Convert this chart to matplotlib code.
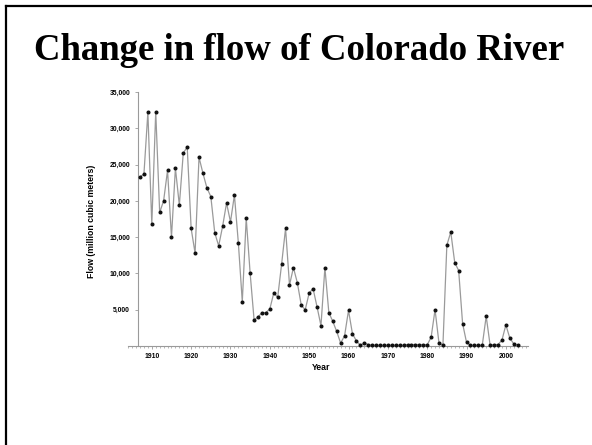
import matplotlib
matplotlib.use("Agg")
import matplotlib.pyplot as plt
from matplotlib.ticker import MultipleLocator, StrMethodFormatter
from matplotlib.lines import Line2D

# annual flow, million cubic meters
years = list(range(1907, 2004))
flow = [23300, 23700, 32200, 16800, 32300, 18400, 20000, 24200, 15000, 24500,
        19400, 26600, 27400, 16200, 12800, 26000, 23800, 21800, 20600, 15600,
        13800, 16500, 19700, 17100, 20800, 14200, 6100, 17600, 10000, 3600,
        4000, 4600, 4600, 5100, 7300, 6700, 11300, 16200, 8400, 10800,
        8700, 5600, 5000, 7300, 7900, 5400, 2800, 10800, 4600, 3400,
        2000, 400, 1400, 4900, 1700, 700, 100, 400, 200, 100,
        100, 100, 100, 100, 100, 100, 100, 100, 200, 200,
        200, 200, 200, 150, 1200, 5000, 400, 100, 13900, 15700,
        11500, 10400, 3100, 500, 100, 100, 100, 100, 4100, 100,
        200, 200, 800, 2900, 1100, 300, 100]

title = "Change in flow of Colorado River"
xlabel = "Year"
ylabel = "Flow (million cubic meters)"
year_ticks = list(range(1910, 2001, 10))
flow_ticks = list(range(5000, 35001, 5000))

W, H = 592, 445
fig = plt.figure(figsize=(W / 100, H / 100), dpi=100)

# slide frame (left and top edges only are in view)
fig.add_artist(Line2D([6 / W, 6 / W], [0, 1 - 6 / H], color="black", lw=1.6))
fig.add_artist(Line2D([6 / W, 1], [1 - 6 / H, 1 - 6 / H], color="black", lw=1.6))

fig.text(299 / W, 1 - 60 / H, title, family="Liberation Serif",
         weight="bold", fontsize=26.5, ha="center", va="baseline")

# plot area in pixels
x0, x1 = 1904, 2005.5
px_per_year = 3.934
left = 128.2
ax = fig.add_axes([left / W, (H - 346) / H, (x1 - x0) * px_per_year / W, 254 / H])

ax.plot(years, flow, color="#9a9a9a", lw=0.9, marker="o", markersize=1.9,
        markerfacecolor="#111111", markeredgecolor="#111111", zorder=3, clip_on=False)

ax.set_xlim(x0, x1)
ax.set_ylim(0, 35000)

grey = "#9a9a9a"
for s in ["top", "right"]:
    ax.spines[s].set_visible(False)
ax.spines["left"].set_position(("data", 1906.6))
ax.spines["left"].set_color(grey)
ax.spines["bottom"].set_color(grey)
ax.spines["left"].set_linewidth(0.8)
ax.spines["bottom"].set_linewidth(0.8)

ax.set_xticks(year_ticks)
ax.xaxis.set_minor_locator(MultipleLocator(1))
ax.set_yticks(flow_ticks)
ax.yaxis.set_major_formatter(StrMethodFormatter("{x:,.0f}"))

ax.tick_params(axis="x", which="major", direction="out", length=2.2, width=0.6,
               color=grey, pad=3)
ax.tick_params(axis="x", which="minor", direction="out", length=1.6, width=0.5,
               color=grey)
ax.tick_params(axis="y", direction="out", length=2.5, width=0.6, color=grey, pad=3.5)

for lab in ax.get_xticklabels() + ax.get_yticklabels():
    lab.set_family("Liberation Sans")
    lab.set_weight("bold")
    lab.set_fontsize(4.9)

fig.text(321.5 / W, 1 - 367 / H, xlabel, family="Liberation Sans", weight="bold",
         fontsize=6.3, ha="center", va="center")
fig.text(92 / W, 1 - 221 / H, ylabel, family="Liberation Sans", weight="bold",
         fontsize=6.3, ha="center", va="center", rotation=90)

fig.savefig("out.png", dpi=100)
